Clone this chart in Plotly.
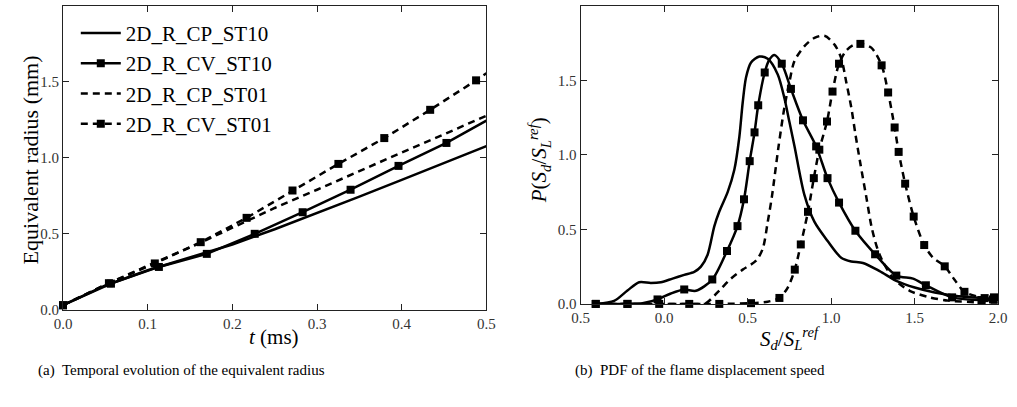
import plotly.graph_objects as go

# ---------------- Left panel: equivalent radius vs time ----------------
t_cp10 = [0, 0.05, 0.1, 0.15, 0.2, 0.25, 0.3, 0.35, 0.4, 0.45, 0.5]
r_cp10 = [0.03, 0.16, 0.26, 0.345, 0.43, 0.53, 0.635, 0.745, 0.855, 0.965, 1.077]

t_cv10 = [0, 0.0566, 0.1132, 0.1698, 0.2264, 0.283, 0.3396, 0.3962, 0.4528, 0.5]
r_cv10 = [0.03, 0.172, 0.282, 0.368, 0.50, 0.642, 0.79, 0.947, 1.098, 1.245]

t_cp01 = [0, 0.05, 0.1, 0.15, 0.2, 0.25, 0.3, 0.35, 0.4, 0.45, 0.5]
r_cp01 = [0.03, 0.165, 0.29, 0.41, 0.54, 0.67, 0.79, 0.915, 1.035, 1.155, 1.277]

t_cv01 = [0, 0.0542, 0.1084, 0.1626, 0.2168, 0.271, 0.3252, 0.3794, 0.4336, 0.4878, 0.5]
r_cv01 = [0.03, 0.175, 0.305, 0.445, 0.605, 0.785, 0.96, 1.13, 1.316, 1.51, 1.557]

series_names = ["2D_R_CP_ST10", "2D_R_CV_ST10", "2D_R_CP_ST01", "2D_R_CV_ST01"]

# ---------------- Right panel: PDF of Sd/SL ----------------
x_a = [-0.4, -0.3, -0.22, -0.15, -0.08, -0.02, 0.05, 0.12, 0.18, 0.22, 0.26, 0.3, 0.33, 0.38, 0.42,
       0.45, 0.47, 0.49, 0.52, 0.57, 0.62, 0.68, 0.72, 0.75, 0.78, 0.84, 0.9, 0.98, 1.06, 1.12, 1.19,
       1.29, 1.39, 1.5, 1.62, 1.74, 1.9, 2.0]
y_a = [0, 0.02, 0.09, 0.145, 0.14, 0.145, 0.17, 0.195, 0.215, 0.25, 0.33, 0.52, 0.62, 0.75, 0.9,
       1.12, 1.35, 1.52, 1.62, 1.66, 1.645, 1.54, 1.38, 1.22, 1.06, 0.73, 0.55, 0.42, 0.31, 0.285, 0.275,
       0.22, 0.155, 0.11, 0.077, 0.055, 0.04, 0.033]

x_b = [-0.41, -0.22, -0.13, -0.04, 0.04, 0.12, 0.19, 0.288, 0.376, 0.439, 0.478, 0.512, 0.541, 0.563,
       0.602, 0.63, 0.66, 0.704, 0.759, 0.831, 0.91, 0.978, 1.047, 1.145, 1.263, 1.39, 1.49, 1.567,
       1.724, 1.9, 1.969, 2.0]
y_b = [0, 0, 0.005, 0.03, 0.07, 0.097, 0.088, 0.164, 0.355, 0.522, 0.702, 0.958, 1.151, 1.333,
       1.553, 1.64, 1.671, 1.612, 1.443, 1.232, 1.057, 0.844, 0.68, 0.491, 0.333, 0.19, 0.17, 0.125,
       0.044, 0.026, 0.03, 0.03]
xm_b = [-0.41, -0.22, -0.04, 0.12, 0.288, 0.376, 0.439, 0.478, 0.512, 0.541, 0.563, 0.602, 0.704,
        0.759, 0.831, 0.91, 0.978, 1.047, 1.145, 1.263, 1.39, 1.567, 1.724, 1.9, 1.969]
ym_b = [0, 0, 0.03, 0.097, 0.164, 0.355, 0.522, 0.702, 0.958, 1.151, 1.333, 1.553, 1.612,
        1.443, 1.232, 1.057, 0.844, 0.68, 0.491, 0.333, 0.19, 0.125, 0.044, 0.026, 0.03]

x_c = [-0.4, 0.0, 0.2, 0.25, 0.33, 0.40, 0.47, 0.55, 0.59, 0.62, 0.645, 0.684, 0.72, 0.75, 0.78,
       0.84, 0.90, 0.96, 1.02, 1.06, 1.09, 1.12, 1.145, 1.175, 1.21, 1.245, 1.29, 1.37, 1.47, 1.59,
       1.70, 1.9, 2.0]
y_c = [0, 0, 0, 0.005, 0.09, 0.17, 0.23, 0.29, 0.37, 0.55, 0.72, 1.05, 1.32, 1.49, 1.63,
       1.73, 1.785, 1.80, 1.74, 1.65, 1.49, 1.32, 1.14, 0.94, 0.72, 0.50, 0.33, 0.175, 0.088, 0.044,
       0.022, 0.01, 0.01]

x_d = [-0.41, -0.22, -0.03, 0.15, 0.33, 0.52, 0.62, 0.69, 0.74, 0.782, 0.818, 0.861, 0.896, 0.929,
       0.975, 1.008, 1.047, 1.09, 1.13, 1.175, 1.24, 1.302, 1.341, 1.38, 1.404, 1.443, 1.494, 1.557,
       1.61, 1.68, 1.74, 1.798, 1.919, 1.975, 2.0]
y_d = [0, 0, 0, 0, 0, 0.005, 0.015, 0.04, 0.11, 0.23, 0.399, 0.618, 0.844, 1.035,
       1.224, 1.425, 1.612, 1.70, 1.735, 1.745, 1.72, 1.601, 1.419, 1.184, 1.02, 0.807, 0.586, 0.395,
       0.31, 0.252, 0.16, 0.081, 0.039, 0.044, 0.04]
xm_d = [-0.41, -0.22, -0.03, 0.15, 0.33, 0.52, 0.69, 0.782, 0.818, 0.861, 0.896, 0.929, 0.975,
        1.008, 1.047, 1.175, 1.302, 1.341, 1.38, 1.404, 1.443, 1.494, 1.557, 1.68, 1.798, 1.919, 1.975]
ym_d = [0, 0, 0, 0, 0, 0.005, 0.04, 0.23, 0.399, 0.618, 0.844, 1.035, 1.224,
        1.425, 1.612, 1.745, 1.601, 1.419, 1.184, 1.02, 0.807, 0.586, 0.395, 0.252, 0.081, 0.039, 0.044]

left_ticks = [0.0, 0.1, 0.2, 0.3, 0.4, 0.5]
left_ticktext = ["0.0", "0.1", "0.2", "0.3", "0.4", "0.5"]
y_ticks = [0.0, 0.5, 1.0, 1.5, 2.0]
y_ticktext = ["0.0", "0.5", "1.0", "1.5", "2.0"]
right_ticks = [-0.5, 0.0, 0.5, 1.0, 1.5, 2.0]
right_ticktext = ["0.5", "0.0", "0.5", "1.0", "1.5", "2.0"]

# ---------------- Styling ----------------
BLACK = "#000000"
LW = 2.5
DASH = "7px,5px"
MSIZE = 8
SERIF = "Liberation Serif"

fig = go.Figure()

def line(x, y, dash, xa, ya, shape="linear"):
    fig.add_trace(go.Scatter(x=x, y=y, mode="lines", xaxis=xa, yaxis=ya, showlegend=False,
                             line=dict(color=BLACK, width=LW, dash=dash, shape=shape,
                                       smoothing=0.8 if shape == "spline" else None),
                             hoverinfo="skip"))

def marks(x, y, xa, ya):
    fig.add_trace(go.Scatter(x=x, y=y, mode="markers", xaxis=xa, yaxis=ya, showlegend=False,
                             cliponaxis=False,
                             marker=dict(symbol="square", size=MSIZE, color=BLACK),
                             hoverinfo="skip"))

# Left panel
line(t_cp10, r_cp10, "solid", "x", "y")
line(t_cv10, r_cv10, "solid", "x", "y")
marks(t_cv10[:-1], r_cv10[:-1], "x", "y")
line(t_cp01, r_cp01, DASH, "x", "y")
line(t_cv01, r_cv01, DASH, "x", "y")
marks(t_cv01[:-1], r_cv01[:-1], "x", "y")

# Legend entries
styles = [("solid", False), ("solid", True), (DASH, False), (DASH, True)]
for name, (dash, mk) in zip(series_names, styles):
    fig.add_trace(go.Scatter(x=[None], y=[None], xaxis="x", yaxis="y", name=name,
                             legendgroup=name,
                             mode="lines+markers" if mk else "lines",
                             line=dict(color=BLACK, width=LW, dash=dash),
                             marker=dict(symbol="square", size=MSIZE, color=BLACK)))

# Right panel
line(x_a, y_a, "solid", "x2", "y2", "spline")
line(x_b, y_b, "solid", "x2", "y2", "spline")
marks(xm_b, ym_b, "x2", "y2")
line(x_c, y_c, DASH, "x2", "y2", "spline")
line(x_d, y_d, DASH, "x2", "y2", "spline")
marks(xm_d, ym_d, "x2", "y2")

W, H = 1017, 407
def px_x(p): return p / W
def px_y(p): return 1 - p / H

axis_common = dict(showgrid=False, zeroline=False, showline=True, linecolor="#222222", linewidth=1.3,
                   mirror="allticks", ticks="inside", ticklen=6, tickwidth=1, tickcolor="#222222",
                   tickfont=dict(family=SERIF, size=15, color="#333333"))

fig.update_layout(
    width=W, height=H,
    margin=dict(l=0, r=0, t=0, b=0),
    paper_bgcolor="white", plot_bgcolor="white",
    font=dict(family=SERIF, color=BLACK),
    xaxis=dict(domain=[px_x(55), px_x(486)], range=[0, 0.5], anchor="y",
               tickvals=left_ticks, ticktext=left_ticktext, **axis_common),
    yaxis=dict(domain=[px_y(316), px_y(6)], range=[0, 2], anchor="x",
               tickvals=y_ticks, ticktext=y_ticktext, **axis_common),
    xaxis2=dict(domain=[px_x(582), px_x(1007)], range=[-0.5, 2.0], anchor="y2",
                tickvals=right_ticks, ticktext=right_ticktext, **axis_common),
    yaxis2=dict(domain=[px_y(310), px_y(6)], range=[0, 2], anchor="x2",
                tickvals=y_ticks, ticktext=y_ticktext, **axis_common),
    showlegend=True,
    legend=dict(x=px_x(68), y=px_y(13), xanchor="left", yanchor="top",
                bgcolor="rgba(0,0,0,0)", borderwidth=0,
                font=dict(family=SERIF, size=21, color=BLACK),
                traceorder="grouped", tracegroupgap=0, itemwidth=40),
)

ann = [
    dict(text="Equivalent radius (mm)", x=px_x(22), y=px_y(163), textangle=-90, font_size=22),
    dict(text="<i>t</i> (ms)", x=px_x(270), y=px_y(344), font_size=21),
    dict(text="<i>P</i>(<i>S<sub>d</sub></i>/<i>S</i><sub><i>L</i></sub><sup><i>ref</i></sup>)",
         x=px_x(540), y=px_y(163), textangle=-90, font_size=21),
    dict(text="<i>S<sub>d</sub></i>/<i>S</i><sub><i>L</i></sub><sup><i>ref</i></sup>",
         x=px_x(795), y=px_y(345), font_size=21),
    dict(text="(a)  Temporal evolution of the equivalent radius", x=px_x(176), y=px_y(378), font_size=15),
    dict(text="(b)  PDF of the flame displacement speed", x=px_x(703), y=px_y(378), font_size=15),
]
for a in ann:
    fig.add_annotation(xref="paper", yref="paper", showarrow=False, xanchor="center", yanchor="middle",
                       font=dict(family=SERIF, size=a.pop("font_size"), color=BLACK), **a)

fig.write_html("out.html")
